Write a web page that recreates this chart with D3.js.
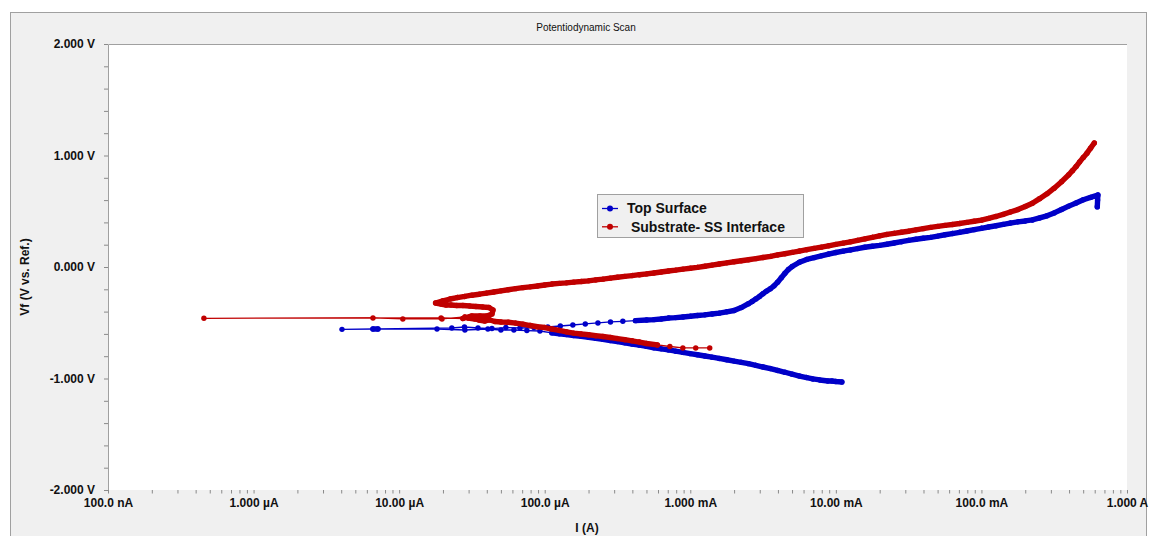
<!DOCTYPE html>
<html><head><meta charset="utf-8">
<script src="https://cdn.jsdelivr.net/npm/d3@7"></script>
<style>
body{margin:0;background:#fff;}
svg text{font-family:"Liberation Sans",Arial,sans-serif;}
</style></head><body>
<svg id="chart" width="1149" height="536"></svg>
<script>
const chartTitle = "Potentiodynamic Scan";
const xTitle = "I (A)";
const yTitle = "Vf (V vs. Ref.)";
const seriesNames = ["Top Surface", " Substrate- SS Interface"];
const seriesColors = ["#0000c8", "#c00000"];
const xTickValues = [1e-7,1e-6,1e-5,1e-4,1e-3,1e-2,1e-1,1];
const xTickLabels = ["100.0 nA","1.000 µA","10.00 µA","100.0 µA","1.000 mA","10.00 mA","100.0 mA","1.000 A"];
const yTickValues = [-2,-1,0,1,2];
const yTickLabels = ["-2.000 V","-1.000 V","0.000 V","1.000 V","2.000 V"];

// Top Surface, in scan order (current A, potential V)
const topSurfaceI = [1.10e-2,1.00e-2,9.39e-3,8.81e-3,7.76e-3,6.95e-3,
 6.31e-3,5.62e-3,5.01e-3,4.47e-3,3.98e-3,3.55e-3,3.16e-3,2.82e-3,2.51e-3,2.24e-3,2.00e-3,1.78e-3,1.58e-3,1.41e-3,1.26e-3,1.12e-3,1.00e-3,
 8.91e-4,7.94e-4,7.08e-4,6.31e-4,5.62e-4,5.01e-4,4.47e-4,3.98e-4,3.55e-4,3.16e-4,2.82e-4,2.51e-4,2.24e-4,2.00e-4,1.78e-4,1.58e-4,1.41e-4,1.26e-4,1.12e-4,
 9.27e-5,7.54e-5,6.14e-5,5.00e-5,4.07e-5,2.83e-5,1.82e-5,7.15e-6,6.61e-6,4.05e-6,
 2.30e-5,2.81e-5,3.48e-5,4.34e-5,5.41e-5,6.76e-5,8.43e-5,1.05e-4,1.28e-4,1.56e-4,1.90e-4,2.32e-4,2.83e-4,3.44e-4,4.20e-4,
 5.01e-4,5.62e-4,6.31e-4,7.08e-4,7.94e-4,8.91e-4,1.00e-3,1.12e-3,1.26e-3,1.41e-3,1.58e-3,1.78e-3,2.00e-3,2.24e-3,2.51e-3,2.66e-3,2.82e-3,2.99e-3,
 3.16e-3,3.35e-3,3.55e-3,3.76e-3,3.98e-3,4.22e-3,4.47e-3,4.73e-3,5.01e-3,5.62e-3,6.31e-3,7.08e-3,7.94e-3,8.91e-3,1.00e-2,1.12e-2,1.26e-2,1.41e-2,
 1.58e-2,1.78e-2,2.00e-2,2.24e-2,2.51e-2,2.82e-2,3.16e-2,3.55e-2,3.98e-2,4.47e-2,5.01e-2,5.62e-2,6.31e-2,7.08e-2,7.94e-2,8.91e-2,1.00e-1,
 1.12e-1,1.26e-1,1.41e-1,1.58e-1,1.78e-1,2.00e-1,2.24e-1,2.51e-1,2.82e-1,3.16e-1,3.55e-1,3.98e-1,4.47e-1,5.01e-1,5.62e-1,6.31e-1,6.28e-1,6.25e-1];
const topSurfaceV = [-1.031,-1.027,-1.022,-1.022,-1.013,-1.004,
 -0.992,-0.978,-0.961,-0.944,-0.928,-0.911,-0.897,-0.882,-0.867,-0.855,-0.844,-0.832,-0.820,-0.809,-0.798,-0.787,-0.777,
 -0.766,-0.755,-0.744,-0.734,-0.724,-0.712,-0.701,-0.691,-0.680,-0.669,-0.659,-0.649,-0.640,-0.630,-0.622,-0.614,-0.606,-0.599,-0.591,
 -0.574,-0.570,-0.565,-0.565,-0.556,-0.565,-0.556,-0.556,-0.556,-0.559,
 -0.547,-0.538,-0.547,-0.552,-0.543,-0.547,-0.543,-0.538,-0.529,-0.520,-0.511,-0.502,-0.493,-0.487,-0.481,
 -0.475,-0.472,-0.466,-0.458,-0.454,-0.448,-0.442,-0.435,-0.429,-0.421,-0.414,-0.402,-0.390,-0.364,-0.329,-0.309,-0.286,-0.264,
 -0.239,-0.216,-0.195,-0.169,-0.136,-0.096,-0.056,-0.021,0.004,0.043,0.068,0.084,0.100,0.116,0.130,0.142,0.153,0.165,
 0.177,0.186,0.194,0.204,0.215,0.227,0.239,0.249,0.258,0.266,0.277,0.289,0.300,0.311,0.323,0.335,0.347,
 0.359,0.370,0.382,0.394,0.405,0.413,0.422,0.440,0.459,0.485,0.516,0.546,0.574,0.603,0.624,0.646,0.600,0.540];

// Substrate- SS Interface, in scan order (current A, potential V)
const interfaceI = [1.36e-3,1.09e-3,8.89e-4,7.24e-4,5.94e-4,
 5.01e-4,4.47e-4,3.98e-4,3.55e-4,3.16e-4,2.82e-4,2.51e-4,2.24e-4,2.00e-4,1.78e-4,1.58e-4,1.41e-4,1.26e-4,1.12e-4,1.00e-4,
 8.91e-5,7.94e-5,7.08e-5,6.31e-5,5.62e-5,5.01e-5,
 4.55e-5,4.20e-5,3.88e-5,3.53e-5,3.32e-5,2.97e-5,2.83e-5,1.97e-5,1.06e-5,6.61e-6,4.56e-7,1.94e-5,2.74e-5,3.16e-5,3.59e-5,4.01e-5,
 4.34e-5,4.41e-5,4.14e-5,3.76e-5,3.37e-5,3.06e-5,2.74e-5,2.49e-5,2.27e-5,2.10e-5,1.94e-5,
 1.78e-5,2.00e-5,2.24e-5,2.51e-5,2.82e-5,3.16e-5,3.55e-5,3.98e-5,4.47e-5,5.01e-5,5.62e-5,6.31e-5,7.08e-5,7.94e-5,8.91e-5,
 1.00e-4,1.12e-4,1.26e-4,1.41e-4,1.58e-4,1.78e-4,2.00e-4,2.24e-4,2.51e-4,2.82e-4,3.16e-4,3.55e-4,3.98e-4,4.47e-4,5.01e-4,5.62e-4,6.31e-4,7.08e-4,7.94e-4,8.91e-4,
 1.00e-3,1.12e-3,1.26e-3,1.41e-3,1.58e-3,1.78e-3,2.00e-3,2.24e-3,2.51e-3,2.82e-3,3.16e-3,3.55e-3,3.98e-3,4.47e-3,5.01e-3,5.62e-3,6.31e-3,7.08e-3,7.94e-3,8.91e-3,
 1.00e-2,1.12e-2,1.26e-2,1.41e-2,1.58e-2,1.78e-2,2.00e-2,2.24e-2,2.51e-2,2.82e-2,3.16e-2,3.55e-2,3.98e-2,4.47e-2,5.01e-2,5.62e-2,6.31e-2,7.08e-2,7.94e-2,8.91e-2,
 1.00e-1,1.12e-1,1.26e-1,1.41e-1,1.58e-1,1.78e-1,2.00e-1,2.24e-1,2.51e-1,2.82e-1,3.16e-1,3.55e-1,3.98e-1,4.22e-1,4.47e-1,4.73e-1,5.01e-1,5.31e-1,5.62e-1,5.96e-1];
const interfaceV = [-0.726,-0.726,-0.726,-0.713,-0.699,
 -0.686,-0.673,-0.662,-0.652,-0.642,-0.632,-0.623,-0.616,-0.608,-0.601,-0.593,-0.581,-0.569,-0.556,-0.543,
 -0.536,-0.525,-0.513,-0.503,-0.495,-0.493,
 -0.489,-0.475,-0.484,-0.475,-0.466,-0.457,-0.448,-0.466,-0.466,-0.457,-0.460,-0.457,-0.462,-0.439,-0.439,-0.439,
 -0.422,-0.386,-0.363,-0.359,-0.354,-0.350,-0.345,-0.345,-0.341,-0.341,-0.332,
 -0.323,-0.303,-0.287,-0.274,-0.264,-0.253,-0.244,-0.234,-0.224,-0.214,-0.204,-0.194,-0.185,-0.178,-0.170,
 -0.161,-0.153,-0.147,-0.142,-0.136,-0.130,-0.124,-0.116,-0.109,-0.100,-0.092,-0.084,-0.077,-0.069,-0.062,-0.054,-0.045,-0.036,-0.028,-0.019,
 -0.011,-0.003,0.007,0.017,0.027,0.037,0.047,0.056,0.065,0.075,0.085,0.095,0.108,0.119,0.131,0.143,0.155,0.167,0.178,0.190,
 0.203,0.214,0.226,0.239,0.252,0.266,0.280,0.292,0.302,0.312,0.321,0.333,0.344,0.355,0.364,0.373,0.381,0.390,0.400,0.410,
 0.420,0.436,0.453,0.472,0.493,0.515,0.543,0.572,0.613,0.656,0.707,0.765,0.827,0.864,0.901,0.943,0.983,1.021,1.066,1.112];

const W = 1149, H = 536;
const plot = {left:108, top:44, right:1127, bottom:490};
const svg = d3.select("#chart");

// outer panel
svg.append("rect").attr("x",10.5).attr("y",12.5).attr("width",1136).attr("height",H)
  .attr("fill","#f0f0f0").attr("stroke","#a0a0a0").attr("stroke-width",1);
svg.append("rect").attr("x",plot.left).attr("y",plot.top)
  .attr("width",plot.right-plot.left).attr("height",plot.bottom-plot.top).attr("fill","#fff");

const x = d3.scaleLog().domain([1e-7,1]).range([plot.left,plot.right]);
const y = d3.scaleLinear().domain([-2,2]).range([plot.bottom,plot.top]);

// frame lines (left and top)
svg.append("path").attr("d",`M${plot.left+0.5},${plot.bottom}V${plot.top+0.5}H${plot.right}`)
  .attr("fill","none").attr("stroke","#a0a0a0");

// y axis
const yMinor = d3.range(-10,11).map(k=>k*0.2);
const yAxis = d3.axisLeft(y).tickValues(yMinor).tickSize(4).tickPadding(9)
  .tickFormat(v=>{const i=yTickValues.findIndex(t=>Math.abs(t-v)<1e-9);return i>=0?yTickLabels[i]:"";});
const gy = svg.append("g").attr("transform",`translate(${plot.left},0)`).call(yAxis);
gy.select(".domain").remove();
gy.selectAll("line").attr("stroke","#8a8a8a");
gy.selectAll("text").attr("font-size",12).attr("font-weight","bold").attr("fill","#111")
  .attr("font-family","Liberation Sans, Arial, sans-serif");

// x axis
const xMinor = [1e-7];
for (let e=-7;e<0;e++) for (let m=2;m<=10;m++) xMinor.push(m*Math.pow(10,e));
const xAxis = d3.axisBottom(x).tickValues(xMinor).tickSize(3.5)
  .tickFormat(v=>{const i=xTickValues.findIndex(t=>Math.abs(Math.log10(t)-Math.log10(v))<1e-6);return i>=0?xTickLabels[i]:"";});
const gx = svg.append("g").attr("transform",`translate(0,${plot.bottom})`).call(xAxis);
gx.select(".domain").remove();
gx.selectAll("line").attr("stroke","#8a8a8a");
gx.selectAll("text").attr("y",13).attr("dy","0.35em").attr("font-size",12).attr("font-weight","bold")
  .attr("fill","#111").attr("font-family","Liberation Sans, Arial, sans-serif");

// titles
svg.append("text").attr("x",586).attr("y",27).attr("dy","0.35em").attr("text-anchor","middle")
  .attr("font-size",10).attr("fill","#111").text(chartTitle);
svg.append("text").attr("x",587).attr("y",528).attr("dy","0.35em").attr("text-anchor","middle")
  .attr("font-size",12).attr("font-weight","bold").attr("fill","#111").text(xTitle);
svg.append("text").attr("transform","translate(25,277) rotate(-90)").attr("dy","0.35em").attr("text-anchor","middle")
  .attr("font-size",12).attr("font-weight","bold").attr("fill","#111").text(yTitle);

// series
const series = [
  {I: topSurfaceI, V: topSurfaceV},
  {I: interfaceI, V: interfaceV}
];
const line = d3.line().x(d=>x(d[0])).y(d=>y(d[1]));
const markerR = 2.7;
series.forEach((s,si)=>{
  const pts = s.I.map((v,i)=>[v,s.V[i]]);
  const col = seriesColors[si];
  const g = svg.append("g");
  g.append("path").attr("d",line(pts)).attr("fill","none").attr("stroke",col).attr("stroke-width",1.3);
  // where consecutive markers overlap, they merge into a solid band
  let band = "";
  for (let i=0;i<pts.length-1;i++){
    const x0=x(pts[i][0]), y0=y(pts[i][1]), x1=x(pts[i+1][0]), y1=y(pts[i+1][1]);
    if (Math.hypot(x1-x0,y1-y0) < 12) band += `M${x0},${y0}L${x1},${y1}`;
  }
  g.append("path").attr("d",band).attr("fill","none").attr("stroke",col)
    .attr("stroke-width",markerR*2).attr("stroke-linecap","round").attr("stroke-linejoin","round");
  g.selectAll("circle").data(pts).join("circle")
    .attr("cx",d=>x(d[0])).attr("cy",d=>y(d[1])).attr("r",markerR).attr("fill",col);
});

// legend
const lg = svg.append("g");
lg.append("rect").attr("x",597.5).attr("y",194.5).attr("width",206).attr("height",43)
  .attr("fill","#f0f0f0").attr("stroke","#a0a0a0");
seriesNames.forEach((n,i)=>{
  const cy = 208.5 + i*18.3;
  lg.append("line").attr("x1",602).attr("x2",618).attr("y1",cy).attr("y2",cy)
    .attr("stroke",seriesColors[i]).attr("stroke-width",1.3);
  lg.append("circle").attr("cx",610).attr("cy",cy).attr("r",3).attr("fill",seriesColors[i]);
  lg.append("text").attr("x",627).attr("y",cy).attr("dy","0.35em").attr("font-size",14)
    .attr("font-weight","bold").attr("fill","#111").style("white-space","pre").text(n);
});
</script>
</body></html>
